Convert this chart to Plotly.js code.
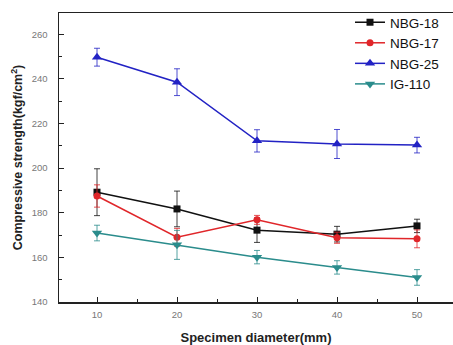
<!DOCTYPE html>
<html><head><meta charset="utf-8">
<script src="https://cdn.plot.ly/plotly-3.0.1.min.js"></script>
<style>html,body{margin:0;padding:0;background:#fff}#chart{width:453px;height:345px}</style>
</head><body><div id="chart"></div>
<script>
const diameters = [10, 20, 30, 40, 50];
const seriesNames = ["NBG-18", "NBG-17", "NBG-25", "IG-110"];
const nbg18 = [189.2, 181.7, 172.2, 170.4, 174.1];
const nbg18Err = [10.5, 8, 5.5, 3.5, 3];
const nbg17 = [187.5, 169.0, 176.8, 168.8, 168.3];
const nbg17Err = [5, 4, 2, 2.5, 4];
const nbg25 = [249.7, 238.5, 212.2, 210.8, 210.3];
const nbg25Err = [4, 6, 5, 6.5, 3.5];
const ig110 = [170.9, 165.6, 160.1, 155.5, 151.0];
const ig110Err = [3.5, 6.5, 3, 3, 3.5];

const values = [nbg18, nbg17, nbg25, ig110];
const errs = [nbg18Err, nbg17Err, nbg25Err, ig110Err];
const colors = ["#111111", "#e0262a", "#2222c4", "#2a8c8c"];
const symbols = ["square", "circle", "triangle-up", "triangle-down"];
const sizes = [7, 7, 9, 9];

const traces = seriesNames.map((n, i) => ({
  x: diameters, y: values[i], name: n, type: "scatter", mode: "lines+markers",
  line: {color: colors[i], width: 1.5},
  marker: {color: colors[i], symbol: symbols[i], size: sizes[i]},
  error_y: {type: "data", array: errs[i], visible: true, color: colors[i], thickness: 0.8, width: 3}
}));

const layout = {
  width: 453, height: 345,
  margin: {l: 59, r: 0, t: 13, b: 43},
  paper_bgcolor: "#fff", plot_bgcolor: "#fff",
  font: {family: "Liberation Sans, Arial, sans-serif"},
  showlegend: true,
  legend: {x: 0.7386, y: 0.86, xanchor: "left", yanchor: "middle",
    font: {size: 13.5, color: "#111", family: "Liberation Sans, Arial, sans-serif"},
    bgcolor: "rgba(0,0,0,0)", tracegroupgap: 0, itemwidth: 30},
  xaxis: {range: [5.25, 54.5], tickvals: diameters, ticks: "inside", ticklen: 5,
    tickcolor: "#222", showline: true, linecolor: "#222", linewidth: 1.5, mirror: true,
    showgrid: false, zeroline: false, tickfont: {size: 9.5, color: "#777"}, ticklabelstandoff: 3,
    minor: {tickvals: [15, 25, 35, 45], ticks: "inside", ticklen: 3, tickcolor: "#222"},
    title: {text: "<b>Specimen diameter(mm)</b>", font: {size: 13, color: "#222"}, standoff: 17}},
  yaxis: {range: [140, 269.5], dtick: 20, ticks: "inside", ticklen: 5, tickcolor: "#222",
    showline: true, linecolor: "#222", linewidth: 1.5, showgrid: false, zeroline: false,
    tickfont: {size: 9.5, color: "#777"}, ticklabelstandoff: 8,
    minor: {dtick: 10, ticks: "inside", ticklen: 3, tickcolor: "#222"},
    title: {text: "<b>Compressive strength(kgf/cm<sup>2</sup>)</b>", font: {size: 12.5, color: "#222"}, standoff: 6}}
};
Plotly.newPlot("chart", traces, layout, {staticPlot: true, displayModeBar: false});
</script></body></html>
